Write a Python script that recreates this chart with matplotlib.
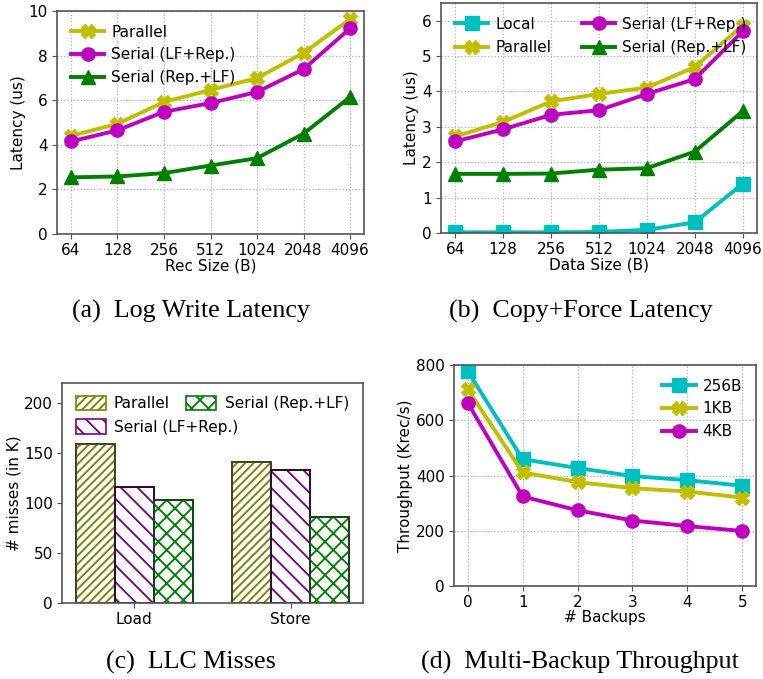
import matplotlib
matplotlib.use("Agg")
import matplotlib.pyplot as plt
import numpy as np

plt.rcParams['font.family'] = ['DejaVu Sans']
plt.rcParams['hatch.linewidth'] = 1.35

# ---- data ----
sizes = ["64", "128", "256", "512", "1024", "2048", "4096"]

a_parallel = [4.40, 4.94, 5.92, 6.46, 6.99, 8.12, 9.63]
a_lf_rep = [4.15, 4.65, 5.48, 5.87, 6.37, 7.39, 9.22]
a_rep_lf = [2.54, 2.58, 2.73, 3.07, 3.40, 4.50, 6.14]

b_local = [0.02, 0.02, 0.02, 0.03, 0.09, 0.30, 1.39]
b_parallel = [2.73, 3.14, 3.72, 3.93, 4.11, 4.69, 5.86]
b_lf_rep = [2.59, 2.93, 3.34, 3.47, 3.93, 4.35, 5.70]
b_rep_lf = [1.67, 1.67, 1.68, 1.79, 1.83, 2.30, 3.44]

c_groups = ["Load", "Store"]
c_parallel = [159, 141]
c_lf_rep = [116, 133]
c_rep_lf = [103, 86]

d_backups = [0, 1, 2, 3, 4, 5]
d_256b = [778, 459, 427, 398, 383, 363]
d_1kb = [712, 411, 376, 354, 342, 320]
d_4kb = [663, 324, 274, 237, 217, 199]

W, H = 763, 679
fig = plt.figure(figsize=(W / 100, H / 100), dpi=100)


def ax_at(l, t, r, b):
    return fig.add_axes([l / W, 1 - b / H, (r - l) / W, (b - t) / H])


FS = 11
LW = 2.8
MS = 9.5
SPC = '#555555'
YLP = 2


def style(ax, grid=True):
    if grid:
        ax.grid(True, linestyle=':', color='#b0b0b0', linewidth=0.9)
    ax.set_axisbelow(True)
    for s in ax.spines.values():
        s.set_color(SPC)
        s.set_linewidth(1.2)
    ax.tick_params(labelsize=FS, length=3.5, color=SPC, pad=3)


LEG = dict(frameon=False, fontsize=FS, handlelength=2.2, handletextpad=0.45)

# (a)
ax = ax_at(57, 11, 364, 234)
x = np.arange(len(sizes))
ax.plot(x, a_parallel, color='y', marker='X', lw=LW, ms=MS, label='Parallel')
ax.plot(x, a_lf_rep, color='m', marker='o', lw=LW, ms=MS, label='Serial (LF+Rep.)')
ax.plot(x, a_rep_lf, color='g', marker='^', lw=LW, ms=MS, label='Serial (Rep.+LF)')
ax.set_xticks(x)
ax.set_xticklabels(sizes)
ax.set_ylim(0, 10)
ax.set_yticks([0, 2, 4, 6, 8, 10])
ax.set_xlabel('Rec Size (B)', fontsize=FS, labelpad=0)
ax.set_ylabel('Latency (us)', fontsize=FS, labelpad=YLP)
style(ax)
ax.legend(loc='upper left', borderaxespad=0.5, labelspacing=0.5, **LEG)

# (b)
ax = ax_at(441, 3, 757, 233)
ax.plot(x, b_local, color='c', marker='s', lw=LW, ms=MS, label='Local')
ax.plot(x, b_parallel, color='y', marker='X', lw=LW, ms=MS, label='Parallel')
ax.plot(x, b_lf_rep, color='m', marker='o', lw=LW, ms=MS, label='Serial (LF+Rep.)')
ax.plot(x, b_rep_lf, color='g', marker='^', lw=LW, ms=MS, label='Serial (Rep.+LF)')
ax.set_xticks(x)
ax.set_xticklabels(sizes)
ax.set_ylim(0, 6.5)
ax.set_yticks([0, 1, 2, 3, 4, 5, 6])
ax.set_xlabel('Data Size (B)', fontsize=FS, labelpad=0)
ax.set_ylabel('Latency (us)', fontsize=FS, labelpad=YLP)
style(ax)
ax.legend(loc='upper left', ncol=2, borderaxespad=0.5, labelspacing=0.55,
          columnspacing=2.0, bbox_to_anchor=(0.0, 1.0), **LEG)

# (c)
ax = ax_at(62, 383, 363, 603)
gx = np.arange(len(c_groups))
bw = 0.25
series = [(c_parallel, '#808000', '#3c3c28', '////', 'Parallel'),
          (c_lf_rep, '#800080', '#2a0a24', '\\\\', 'Serial (LF+Rep.)'),
          (c_rep_lf, '#008000', '#1c3a1c', 'xx', 'Serial (Rep.+LF)')]
handles = []
for i, (vals, col, ecol, hat, lab) in enumerate(series):
    pos = gx + (i - 1) * bw
    h = ax.bar(pos, vals, bw, color='white', edgecolor=col, hatch=hat, lw=1.2, label=lab)
    ax.bar(pos, vals, bw, fill=False, edgecolor=ecol, lw=1.3)
    handles.append(h)
ax.set_xticks(gx)
ax.set_xticklabels(c_groups)
ax.set_ylim(0, 220)
ax.set_yticks([0, 50, 100, 150, 200])
ax.set_ylabel('# misses (in K)', fontsize=FS, labelpad=YLP)
style(ax, grid=False)
CLEG = dict(LEG, handlelength=2.0, handleheight=1.05, handletextpad=0.5,
            labelspacing=0.55, borderaxespad=0.5)
leg1 = ax.legend(handles=[handles[0], handles[1]], loc='upper left',
                 bbox_to_anchor=(0.0, 1.005), **CLEG)
ax.add_artist(leg1)
ax.legend(handles=[handles[2]], loc='upper left', bbox_to_anchor=(0.365, 1.005),
          **dict(CLEG, handletextpad=0.6))

# (d)
ax = ax_at(454, 365, 756, 586)
ax.plot(d_backups, d_256b, color='c', marker='s', lw=LW, ms=MS, label='256B')
ax.plot(d_backups, d_1kb, color='y', marker='X', lw=LW, ms=MS, label='1KB')
ax.plot(d_backups, d_4kb, color='m', marker='o', lw=LW, ms=MS, label='4KB')
ax.set_xticks(d_backups)
ax.set_ylim(0, 800)
ax.set_yticks([0, 200, 400, 600, 800])
ax.set_xlabel('# Backups', fontsize=FS, labelpad=0)
ax.set_ylabel('Throughput (Krec/s)', fontsize=FS, labelpad=YLP)
style(ax)
ax.legend(loc='upper right', borderaxespad=0.5, labelspacing=0.5, **LEG)

# captions
cap = dict(fontsize=18.7, family=['Liberation Serif'], ha='center', va='center')
fig.text(191 / W, 1 - 311 / H, '(a)  Log Write Latency', **cap)
fig.text(581 / W, 1 - 311 / H, '(b)  Copy+Force Latency', **cap)
fig.text(191 / W, 1 - 662 / H, '(c)  LLC Misses', **cap)
fig.text(580 / W, 1 - 662 / H, '(d)  Multi-Backup Throughput', **cap)

fig.savefig('out.png', dpi=100)
